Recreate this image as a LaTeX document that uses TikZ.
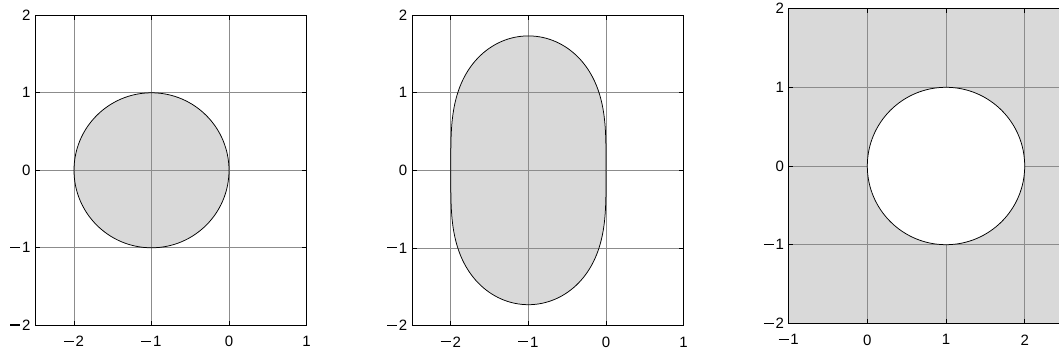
\documentclass[tikz,border=0pt]{standalone}
\usepackage{fontspec}
\setmainfont{Liberation Sans}
\definecolor{fillgray}{RGB}{217,217,217}
\definecolor{gridgray}{RGB}{140,140,140}
\newcommand{\mn}{\rule[5pt]{10pt}{1.1pt}\kern1.8pt}
\tikzset{
  gridln/.style={draw=gridgray, line width=0.7pt},
  frame/.style={draw=black, line width=1pt},
  tickln/.style={draw=black, line width=0.7pt},
  curve/.style={draw=black, line width=0.75pt},
  xl/.style={anchor=north, inner sep=0pt, yshift=-11pt, font=\fontsize{15}{18}\selectfont},
  yl/.style={anchor=east, inner sep=0pt, xshift=-4.5pt, font=\fontsize{15}{18}\selectfont},
}
\begin{document}
\begin{tikzpicture}
\useasboundingbox (0,0) rectangle (1059pt,353pt);
\clip (0,0) rectangle (1059pt,353pt);
\fill[white] (0,0) rectangle (1059pt,353pt);

% ---------- Plot 1 ----------
\begin{scope}[shift={(229pt,182.7pt)}, x=77.5pt, y=77.5pt]
  \fill[fillgray] (-1,0) circle (1);
  \foreach \g in {-2,-1,0} \draw[gridln] (\g,-2) -- (\g,2);
  \foreach \g in {-1,0,1} \draw[gridln] (-2.5,\g) -- (1,\g);
  \draw[curve] (-1,0) circle (1);
  \draw[frame] (-2.5,-2) rectangle (1,2);
  \foreach \t in {-2,-1,0} {\draw[tickln] (\t,-2) -- ++(0,4.5pt); \draw[tickln] (\t,2) -- ++(0,-4.5pt);}
  \foreach \t in {-1,0,1} {\draw[tickln] (-2.5,\t) -- ++(4.5pt,0); \draw[tickln] (1,\t) -- ++(-4.5pt,0);}
  \node[xl] (ax1) at (-2,-2) {\mn2};
  \node[xl] (ax2) at (-1,-2) {\mn1};
  \node[xl] (ax3) at (0,-2) {0};
  \node[xl] (ax4) at (1,-2) {1};
  \node[yl] (ay1) at (-2.5,-2) {\mn2};
  \node[yl] (ay2) at (-2.5,-1) {\mn1};
  \node[yl] (ay3) at (-2.5,0) {0};
  \node[yl] (ay4) at (-2.5,1) {1};
  \node[yl] (ay5) at (-2.5,2) {2};
\end{scope}

% ---------- Plot 2 ----------
\begin{scope}[shift={(606pt,182.7pt)}, x=77.6pt, y=77.6pt]
  \begin{scope}[shift={(-1,0)}]
    \fill[fillgray] plot[domain=0:360, samples=241, smooth] (\x:{sqrt(sqrt(pow(cos(2*\x),2)+3)-cos(2*\x))}) -- cycle;
  \end{scope}
  \foreach \g in {-2,-1,0} \draw[gridln] (\g,-2) -- (\g,2);
  \foreach \g in {-1,0,1} \draw[gridln] (-2.5,\g) -- (1,\g);
  \begin{scope}[shift={(-1,0)}]
    \draw[curve] plot[domain=0:360, samples=241, smooth] (\x:{sqrt(sqrt(pow(cos(2*\x),2)+3)-cos(2*\x))}) -- cycle;
  \end{scope}
  \draw[frame] (-2.5,-2) rectangle (1,2);
  \foreach \t in {-2,-1,0} {\draw[tickln] (\t,-2) -- ++(0,4.5pt); \draw[tickln] (\t,2) -- ++(0,-4.5pt);}
  \foreach \t in {-1,0,1} {\draw[tickln] (-2.5,\t) -- ++(4.5pt,0); \draw[tickln] (1,\t) -- ++(-4.5pt,0);}
  \node[xl] (bx1) at (-2,-2) {\mn2};
  \node[xl] (bx2) at (-1,-2) {\mn1};
  \node[xl] (bx3) at (0,-2) {0};
  \node[xl] (bx4) at (1,-2) {1};
  \node[yl] (by1) at (-2.5,-2) {\mn2};
  \node[yl] (by2) at (-2.5,-1) {\mn1};
  \node[yl] (by3) at (-2.5,0) {0};
  \node[yl] (by4) at (-2.5,1) {1};
  \node[yl] (by5) at (-2.5,2) {2};
\end{scope}

% ---------- Plot 3 ----------
\begin{scope}[shift={(867.3pt,187pt)}, x=78.7pt, y=78.7pt]
  \fill[fillgray] (-1,-2) rectangle (3,2);
  \foreach \g in {0,1,2} \draw[gridln] (\g,-2) -- (\g,2);
  \foreach \g in {-1,0,1} \draw[gridln] (-1,\g) -- (3,\g);
  \draw[curve, fill=white] (1,0) circle (1);
  \draw[frame] (-1,-2) rectangle (3,2);
  \foreach \t in {0,1,2} {\draw[tickln] (\t,-2) -- ++(0,4.5pt); \draw[tickln] (\t,2) -- ++(0,-4.5pt);}
  \foreach \t in {-1,0,1} {\draw[tickln] (-1,\t) -- ++(4.5pt,0);}
  \node[xl] (cx1) at (-1,-2) {\mn1};
  \node[xl] (cx2) at (0,-2) {0};
  \node[xl] (cx3) at (1,-2) {1};
  \node[xl] (cx4) at (2,-2) {2};
  \node[yl] (cy1) at (-1,-2) {\mn2};
  \node[yl] (cy2) at (-1,-1) {\mn1};
  \node[yl] (cy3) at (-1,0) {0};
  \node[yl] (cy4) at (-1,1) {1};
  \node[yl] (cy5) at (-1,2) {2};
\end{scope}
\end{tikzpicture}
\end{document}
